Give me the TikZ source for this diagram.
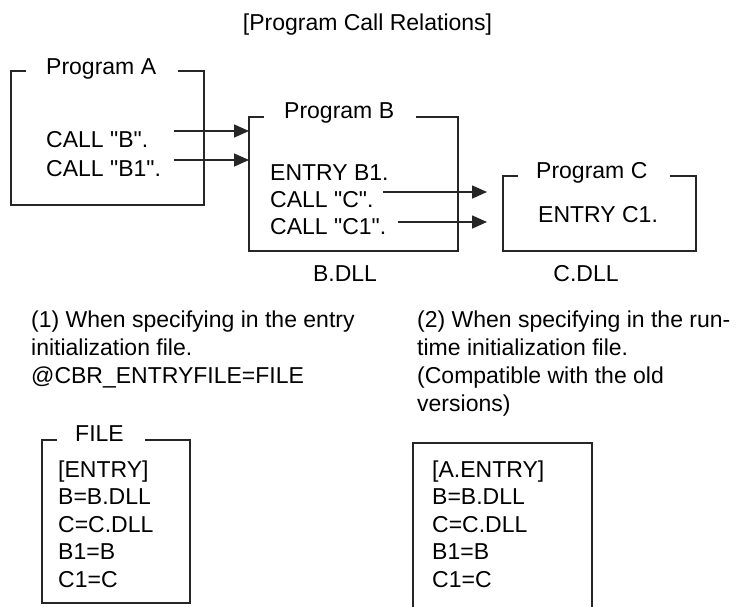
\documentclass[tikz,border=0pt]{standalone}
\usepackage{fontspec}
\setmainfont{Liberation Sans}[Ligatures=TeXOff]
\usetikzlibrary{arrows.meta}
\tikzstyle{txt}=[anchor=base west, inner sep=0pt, font=\fontsize{23}{28}\selectfont]
\tikzstyle{ctr}=[anchor=base, inner sep=0pt, font=\fontsize{23}{28}\selectfont]
\tikzstyle{frame}=[draw=black!85, line width=1.6pt]
\tikzstyle{call}=[draw=black!85, line width=1.6pt, -{Triangle[length=15pt, width=13pt]}]

\begin{document}
\begin{tikzpicture}[x=1pt, y=-1pt]
                \useasboundingbox (0,0) rectangle (754,606);
                \node[ctr] (title) at (367.5, 30) {[Program Call Relations]};
                % program boxes
                \coordinate (atl) at (11,  71);
                \coordinate (abr) at (204, 205);
                \coordinate (btl) at (249, 117);
                \coordinate (bbr) at (458, 251);
                \coordinate (ctl) at (503, 176);
                \coordinate (cbr) at (696, 251);
                \draw[frame] (26, 71) -- (atl) -- (atl |- abr) -- (abr) -- (abr |- atl) -- (178, 71);
                \draw[frame] (264, 117) -- (btl) -- (btl |- bbr) -- (bbr) -- (bbr |- btl) -- (416, 117);
                \draw[frame] (518, 176) -- (ctl) -- (ctl |- cbr) -- (cbr) -- (cbr |- ctl) -- (670, 176);
                \node[txt] (pa)  at (46,  74)  {Program A};
                \node[txt] (ca1) at (46,  147) {CALL "B".};
                \node[txt] (ca2) at (46,  176) {CALL "B1".};
                \node[txt] (pb)  at (284, 118) {Program B};
                \node[txt] (eb)  at (270, 180) {ENTRY B1.};
                \node[txt] (cb1) at (270, 207) {CALL "C".};
                \node[txt] (cb2) at (270, 234) {CALL "C1".};
                \node[ctr] (dllb) at (345, 281) {B.DLL};
                \node[txt] (pc)  at (536, 178) {Program C};
                \node[txt] (ec)  at (538, 222) {ENTRY C1.};
                \node[ctr] (dllc) at (586, 281) {C.DLL};
                % calls
                \coordinate (sa1) at (174, 131);
                \coordinate (sa2) at (174, 160);
                \coordinate (sb1) at (383, 192);
                \coordinate (sb2) at (398, 222);
                \coordinate (tb1) at (487, 192);
                \coordinate (tb2) at (487, 222);
                \draw[call] (sa1) -- (sa1 -| btl);
                \draw[call] (sa2) -- (sa2 -| btl);
                \draw[call] (sb1) -- (tb1);
                \draw[call] (sb2) -- (tb2);
                % notes
                \node[txt] (n1a) at (31,  327) {(1) When specifying in the entry};
                \node[txt] (n1b) at (31,  355) {initialization file.};
                \node[txt] (n1c) at (31,  383) {@CBR\_ENTRYFILE=FILE};
                \node[txt] (n2a) at (417, 327) {(2) When specifying in the run-};
                \node[txt] (n2b) at (417, 355) {time initialization file.};
                \node[txt] (n2c) at (417, 383) {(Compatible with the old};
                \node[txt] (n2d) at (417, 411) {versions)};
                % file boxes
                \coordinate (ftl) at (42,  440);
                \coordinate (fbr) at (190, 603);
                \coordinate (rtl) at (413, 443);
                \coordinate (rbr) at (592, 612);
                \draw[frame] (57, 440) -- (ftl) -- (ftl |- fbr) -- (fbr) -- (fbr |- ftl) -- (145, 440);
                \draw[frame] (rtl |- rbr) -- (rtl) -- (rbr |- rtl) -- (rbr);
                \node[txt] (fl)  at (75,  441)   {FILE};
                \node[txt] (f1)  at (58,  477)   {[ENTRY]};
                \node[txt] (f2)  at (58,  504.5) {B=B.DLL};
                \node[txt] (f3)  at (58,  532)   {C=C.DLL};
                \node[txt] (f4)  at (58,  559.5) {B1=B};
                \node[txt] (f5)  at (58,  587)   {C1=C};
                \node[txt] (r1)  at (432, 477)   {[A.ENTRY]};
                \node[txt] (r2)  at (432, 504.5) {B=B.DLL};
                \node[txt] (r3)  at (432, 532)   {C=C.DLL};
                \node[txt] (r4)  at (432, 559.5) {B1=B};
                \node[txt] (r5)  at (432, 587)   {C1=C};
            \end{tikzpicture}
\end{document}
